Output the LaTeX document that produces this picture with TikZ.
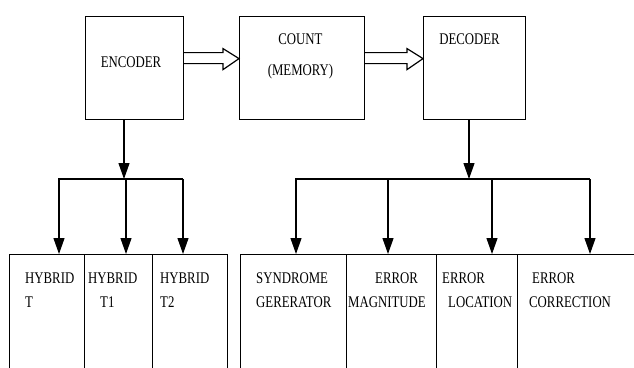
\documentclass[tikz,border=0pt]{standalone}
\usepackage{fontspec}
\setmainfont{Liberation Serif}
\usetikzlibrary{arrows.meta,calc}

\tikzset{
  block/.style={draw, line width=1.2pt, minimum height=103pt, anchor=north west, inner sep=0pt},
  part/.style={draw, line width=1.2pt, minimum height=160pt, anchor=north west, inner sep=0pt},
  caption/.style={font=\fontsize{12.8}{19}\selectfont, yscale=1.27, inner sep=0pt, align=left, anchor=north west},
  feed/.style={line width=1.2pt, -{Triangle[length=16pt,width=11pt]}},
  hollow/.style={line width=1.2pt, line join=miter}
}

\begin{document}
\begin{tikzpicture}[x=1pt, y=-1pt]

    \useasboundingbox (0,0) rectangle (634,367);

    % --- Top row of blocks ---
    \node[block, minimum width=98pt]  (enc) at (85,16)  {};
    \node[block, minimum width=125pt] (cnt) at (239,16) {};
    \node[block, minimum width=102pt] (dec) at (423,16) {};

    \node[caption, anchor=center] (encT) at (131,62) {ENCODER};
    \node[caption, anchor=north, align=center, font=\fontsize{12.8}{24.4}\selectfont] (cntT) at (300.5,33.75) {COUNT\\(MEMORY)};
    \node[caption, anchor=center] (decT) at (469.5,39) {DECODER};

    % --- Hollow arrows between the blocks ---
    \draw[hollow] ($(enc.east)+(0,-15.5)$) -- ($(cnt.west)+(-16,-15.5)$)
        -- ($(cnt.west)+(-16,-19.5)$) -- ($(cnt.west)+(0,-9.5)$)
        -- ($(cnt.west)+(-16,1.5)$) -- ($(cnt.west)+(-16,-4.5)$)
        -- ($(enc.east)+(0,-4.5)$);
    \draw[hollow] ($(cnt.east)+(0,-15.5)$) -- ($(dec.west)+(-16,-15.5)$)
        -- ($(dec.west)+(-16,-19.5)$) -- ($(dec.west)+(0,-9.5)$)
        -- ($(dec.west)+(-16,1.5)$) -- ($(dec.west)+(-16,-4.5)$)
        -- ($(cnt.east)+(0,-4.5)$);

    % --- Bottom row, cut off by the lower edge ---
    \node[part, minimum width=75pt]  (hyb)  at (9,254)   {};
    \node[part, minimum width=68pt]  (hyb1) at (84,254)  {};
    \node[part, minimum width=75pt]  (hyb2) at (152,254) {};
    \node[part, minimum width=106pt] (syn)  at (240,254) {};
    \node[part, minimum width=90pt]  (mag)  at (346,254) {};
    \node[part, minimum width=81pt]  (loc)  at (436,254) {};
    \node[part, minimum width=140pt] (cor)  at (517,254) {};

    % Arrow tips on the top edges of the bottom row
    \coordinate (tH)  at (59,254);
    \coordinate (tH1) at (126,254);
    \coordinate (tH2) at (183,254);
    \coordinate (tS)  at (296,254);
    \coordinate (tM)  at (388,254);
    \coordinate (tL)  at (492,254);
    \coordinate (tC)  at (590,254);

    % Bus lines
    \coordinate (encbus) at (124,179);
    \coordinate (decbus) at (469,179);

    % --- Encoder side ---
    \draw[feed] (enc.south -| encbus) -- (encbus);
    \draw[feed] (tH2 |- encbus) -- (tH |- encbus) -- (tH);
    \draw[feed] (tH1 |- encbus) -- (tH1);
    \draw[feed] (tH2 |- encbus) -- (tH2);

    % --- Decoder side ---
    \draw[feed] (dec.south -| decbus) -- (decbus);
    \draw[feed] (tC |- decbus) -- (tS |- decbus) -- (tS);
    \foreach \t in {tM,tL,tC}
        \draw[feed] (\t |- decbus) -- (\t);

    % --- Labels of the bottom row ---
    \node[caption] (hybT)  at (25,272.7)  {HYBRID\\T};
    \node[caption] (hyb1T) at (88,272.7)  {HYBRID\\\hspace*{12pt}T1};
    \node[caption] (hyb2T) at (160,272.7) {HYBRID\\T2};
    \node[caption] (synT)  at (256,272.7) {SYNDROME\\GERERATOR};
    \node[caption] (magT)  at (348,272.7) {\hspace*{27pt}ERROR\\MAGNITUDE};
    \node[caption] (locT)  at (442,272.7) {ERROR\\\hspace*{6pt}LOCATION};
    \node[caption] (corT)  at (529,272.7) {\hspace*{3pt}ERROR\\CORRECTION};

\end{tikzpicture}
\end{document}
